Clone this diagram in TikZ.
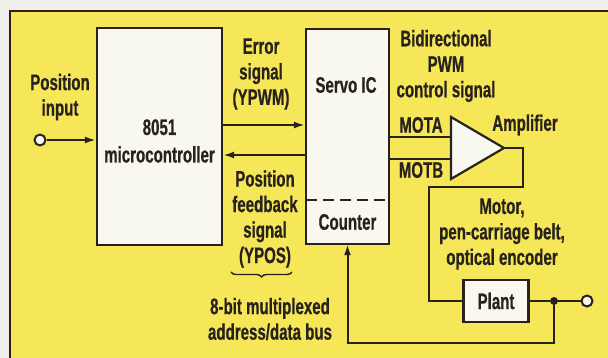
\documentclass[tikz,border=0pt]{standalone}
\usepackage{fontspec}
\setmainfont{Liberation Sans}[FakeStretch=0.67,FakeBold=0.6]
\usetikzlibrary{arrows.meta,decorations.pathreplacing}
\definecolor{panel}{RGB}{246,231,88}
\definecolor{paper}{RGB}{241,239,233}
\definecolor{boxfill}{RGB}{249,248,240}
\definecolor{ink}{RGB}{40,34,28}

\begin{document}
\begin{tikzpicture}[x=1pt,y=-1pt,
  txt/.style={font=\bfseries\fontsize{22.5}{25.5}\selectfont,text=ink,align=center,inner sep=0pt},
  blk/.style={draw=ink,line width=2.2pt,fill=boxfill,inner sep=0pt},
  wire/.style={draw=ink,line width=2pt},
  sig/.style={wire,-{Latex[length=11pt,width=7pt]}},
  port/.style={circle,draw=ink,line width=2pt,fill=boxfill,minimum size=11pt,inner sep=0pt},
  jdot/.style={circle,fill=ink,minimum size=8pt,inner sep=0pt}]
  \useasboundingbox (0,0) rectangle (608,358);
  \fill[paper] (0,0) rectangle (608,358);
  \fill[panel] (10,11) rectangle (608,358);
  \draw[ink,line width=2.4pt] (10,358) -- (10,11) -- (608,11);

  % blocks
  \node[blk,minimum width=125pt,minimum height=217pt] (micro) at (159.5,136.5) {};
  \node[txt] (microlbl) at (159.5,141) {8051\\[2pt]microcontroller};
  \node[blk,minimum width=83pt,minimum height=215pt] (servo) at (347.5,136.5) {};
  \node[txt] (servolbl) at (346,85) {Servo IC};
  \node[txt,minimum width=83pt,minimum height=44pt] (counter) at (347.5,222) {Counter};
  \draw[ink,line width=2pt,dash pattern=on 11pt off 6pt] (counter.north west) -- (counter.north east);
  \node[blk,minimum width=65pt,minimum height=42pt,txt,draw=ink,fill=boxfill] (plant) at (496,301) {Plant};

  % amplifier
  \coordinate (ampT) at (451,117);
  \coordinate (ampB) at (451,179);
  \coordinate (ampO) at (504,148);
  \draw[ink,line width=2.2pt,fill=boxfill,line join=miter] (ampT) -- (ampO) -- (ampB) -- cycle;

  % terminals
  \node[port] (in) at (40,140) {};
  \node[jdot] (jn) at (554,301) {};
  \node[port] (out) at (587,301) {};

  % connections
  \draw[sig] (in) -- (in -| micro.west);
  \draw[sig] (micro.east |- 0,125) -- (servo.west |- 0,125);
  \draw[sig] (servo.west |- 0,155) -- (micro.east |- 0,155);
  \draw[wire] (servo.east |- 0,137) -- (ampT |- 0,137);
  \draw[wire] (servo.east |- 0,159) -- (ampT |- 0,159);
  \draw[wire,line join=miter] (ampO) -| ++(19,39) -- ++(-94,0) |- (plant.west);
  \draw[wire] (plant.east) -- (jn) -- (out);
  \draw[sig] (jn) -- ++(0,42) -| (counter.south);

  % labels
  \node[txt] (inlbl) at (60,97) {Position\\input};
  \node[txt] (errlbl) at (261,74) {Error\\signal\\(YPWM)};
  \node[txt] (fblbl) at (265,219) {Position\\feedback\\signal\\(YPOS)};
  \draw[ink,line width=1.4pt,decorate,decoration={brace,amplitude=5pt}] (292,272) -- (231,272);
  \node[txt] (buslbl) at (270,319) {8-bit multiplexed\\address/data bus};
  \node[txt] (pwmlbl) at (446,66) {Bidirectional\\PWM\\control signal};
  \node[txt] (motalbl) at (421,125) {MOTA};
  \node[txt] (motblbl) at (421,170) {MOTB};
  \node[txt] (amplbl) at (525,125) {Amplifier};
  \node[txt] (plantlbl) at (502,234) {Motor,\\pen-carriage belt,\\optical encoder};
\end{tikzpicture}
\end{document}
